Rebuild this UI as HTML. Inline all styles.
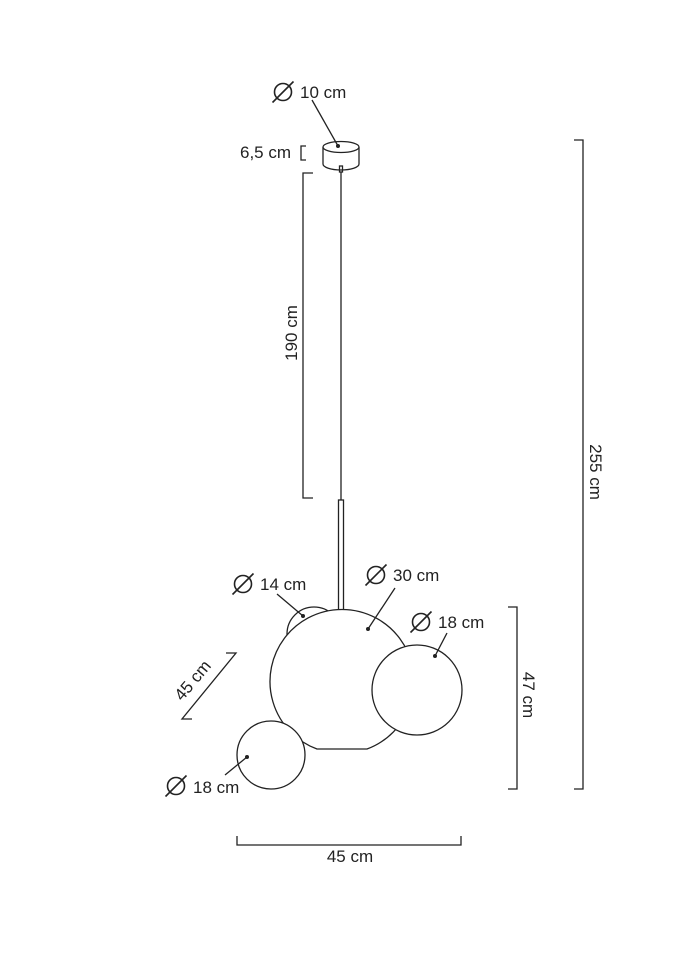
<!DOCTYPE html>
<html><head><meta charset="utf-8"><style>
html,body{margin:0;padding:0;background:#fff;}
svg{display:block;}
text{font-family:"Liberation Sans",sans-serif;font-size:17px;fill:#222;}
</style></head><body>
<svg width="679" height="960" viewBox="0 0 679 960" xmlns="http://www.w3.org/2000/svg">
<defs>
<g id="dia"><circle cx="0" cy="0" r="8.5" fill="none" stroke="#222" stroke-width="1.6"/><line x1="-10.5" y1="10.5" x2="10.5" y2="-10.5" stroke="#222" stroke-width="1.6"/></g>
</defs>
<g fill="none" stroke="#222" stroke-width="1.3">
<path d="M323,147 L323,164 A18,6 0 0 0 359,164 L359,147"/>
<ellipse cx="341" cy="147" rx="18" ry="5.5" fill="#fff"/>
<rect x="339.5" y="166" width="3" height="6"/>
<line x1="341" y1="172" x2="341" y2="500"/>
<rect x="338.5" y="500" width="5" height="112" fill="#fff"/>
<circle cx="314" cy="634" r="27" fill="#fff"/>
<path d="M317,749 A72,72 0 1 1 367,749 Z" fill="#fff"/>
<circle cx="417" cy="690" r="45" fill="#fff"/>
<circle cx="271" cy="755" r="34" fill="#fff"/>
<path d="M313,173 L303,173 L303,498 L313,498"/>
<path d="M306,146 L301,146 L301,160 L306,160"/>
<path d="M574,140 L583,140 L583,789 L574,789"/>
<path d="M508,607 L517,607 L517,789 L508,789"/>
<path d="M237,836 L237,845 L461,845 L461,836"/>
<path d="M226,653 L236,653 L182,719 L192,719"/>
<line x1="312" y1="100" x2="338" y2="146"/>
<line x1="277" y1="594" x2="303" y2="616"/>
<line x1="395" y1="588" x2="368" y2="629"/>
<line x1="447" y1="633" x2="435" y2="656"/>
<line x1="225" y1="775" x2="247" y2="757"/>
</g>
<g fill="#222">
<circle cx="338" cy="146" r="2"/><circle cx="303" cy="616" r="2"/><circle cx="368" cy="629" r="2"/><circle cx="435" cy="656" r="2"/><circle cx="247" cy="757" r="2"/>
</g>
<use href="#dia" x="283" y="92"/><text x="300" y="98">10 cm</text>
<text x="240" y="158">6,5 cm</text>
<text transform="translate(297,333) rotate(-90)" text-anchor="middle">190 cm</text>
<text transform="translate(590,472) rotate(90)" text-anchor="middle">255 cm</text>
<text transform="translate(523,695) rotate(90)" text-anchor="middle">47 cm</text>
<text x="350" y="862" text-anchor="middle">45 cm</text>
<text transform="translate(197,684) rotate(-50)" text-anchor="middle">45 cm</text>
<use href="#dia" x="243" y="584"/><text x="260" y="590">14 cm</text>
<use href="#dia" x="376" y="575"/><text x="393" y="581">30 cm</text>
<use href="#dia" x="421" y="622"/><text x="438" y="628">18 cm</text>
<use href="#dia" x="176" y="786"/><text x="193" y="793">18 cm</text>
</svg>
</body></html>
